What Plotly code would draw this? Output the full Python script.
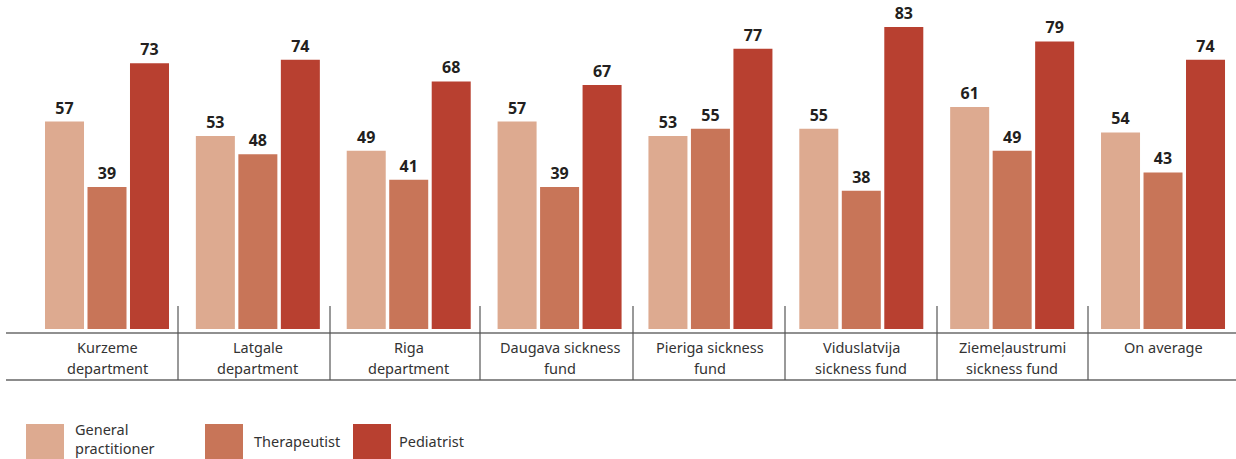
import plotly.graph_objects as go

categories = [
    "Kurzeme<br>department",
    "Latgale<br>department",
    "Riga<br>department",
    "Daugava sickness<br>fund",
    "Pieriga sickness<br>fund",
    "Viduslatvija<br>sickness fund",
    "Ziemeļaustrumi<br>sickness fund",
    "On average",
]
general_practitioner = [57, 53, 49, 57, 53, 55, 61, 54]
therapeutist = [39, 48, 41, 39, 55, 38, 49, 43]
pediatrist = [73, 74, 68, 67, 77, 83, 79, 74]

series = [
    ("General practitioner", "General<br>practitioner", general_practitioner, "#DDAA90"),
    ("Therapeutist", "Therapeutist", therapeutist, "#C87558"),
    ("Pediatrist", "Pediatrist", pediatrist, "#B84030"),
]

W, H = 1236, 459
plot_h = 329            # pixel height of the plotting area (bar baseline)
group_px = 150.86       # pixel width of one category group
first_center_px = 107   # pixel position of the first group centre
px_per_unit = 3.64
separators_px = [178, 330, 480, 633, 785, 937, 1088]
font = "Noto Sans, Open Sans, sans-serif"
text_color = "#333333"

x_idx = list(range(len(categories)))
fig = go.Figure()
for name, _, vals, color in series:
    fig.add_trace(go.Bar(
        x=x_idx, y=vals, name=name, marker_color=color, marker_line_width=0,
        text=vals, texttemplate="<b>%{text}</b>", textposition="outside",
        textfont=dict(size=16, color="#231F20", family=font),
        cliponaxis=False, showlegend=False,
    ))

x0 = -first_center_px / group_px
x1 = (W - first_center_px) / group_px


def px_to_y(py):
    return (plot_h - py) / plot_h


def px_to_x(px):
    return px / W


shapes = []
# baseline axis line and bottom rule
shapes.append(dict(type="line", xref="paper", yref="paper", x0=px_to_x(6), x1=1,
                   y0=px_to_y(333), y1=px_to_y(333), line=dict(color="#222222", width=1.2)))
shapes.append(dict(type="line", xref="paper", yref="paper", x0=px_to_x(6), x1=1,
                   y0=px_to_y(380), y1=px_to_y(380), line=dict(color="#8C8C8C", width=2)))
# group separators
for sx in separators_px:
    shapes.append(dict(type="line", xref="paper", yref="paper", x0=px_to_x(sx), x1=px_to_x(sx),
                       y0=px_to_y(306), y1=px_to_y(380), line=dict(color="#555555", width=1.2)))

annotations = []
for i, cat in enumerate(categories):
    for j, line in enumerate(cat.split("<br>")):
        annotations.append(dict(x=i, y=px_to_y(347 + 21 * j), xref="x", yref="paper", text=line,
                                showarrow=False, xanchor="center", yanchor="middle",
                                font=dict(size=14.5, color=text_color, family=font)))

# legend drawn as swatches with labels
legend_pos = [(26, 73), (205, 252), (353, 397)]
for (sx, tx), (_, label, _, color) in zip(legend_pos, series):
    shapes.append(dict(type="rect", xref="paper", yref="paper",
                       x0=px_to_x(sx), x1=px_to_x(sx + 38),
                       y0=px_to_y(424), y1=px_to_y(462),
                       fillcolor=color, line=dict(width=0)))
    lines = label.split("<br>")
    ys = [441] if len(lines) == 1 else [429, 448]
    for line, ly in zip(lines, ys):
        annotations.append(dict(x=px_to_x(tx), y=px_to_y(ly), xref="paper", yref="paper",
                                text=line, showarrow=False, xanchor="left", yanchor="middle",
                                font=dict(size=14.5, color=text_color, family=font)))

fig.update_layout(
    width=W, height=H,
    margin=dict(l=0, r=0, t=0, b=H - plot_h, pad=0),
    paper_bgcolor="white", plot_bgcolor="white",
    barmode="group", bargap=0.155, bargroupgap=0.082,
    xaxis=dict(range=[x0, x1], showticklabels=False, showgrid=False, zeroline=False,
               showline=False, ticks=""),
    yaxis=dict(range=[0, plot_h / px_per_unit], showticklabels=False, showgrid=False,
               zeroline=False, showline=False, ticks=""),
    shapes=shapes, annotations=annotations,
    font=dict(family=font),
)

fig.write_html("out.html")
